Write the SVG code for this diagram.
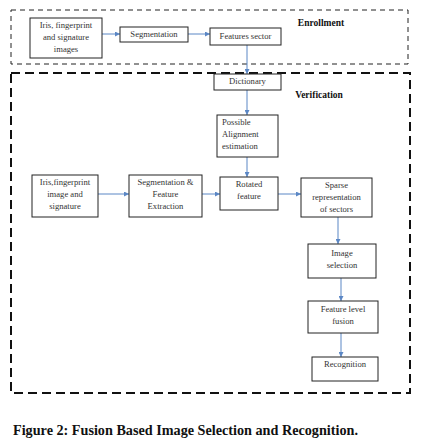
<svg xmlns="http://www.w3.org/2000/svg" width="429" height="443" viewBox="0 0 429 443">
<style>
.box{fill:#fff;stroke:#222;stroke-width:1}
.t{font-family:"Liberation Serif",serif;font-size:8.6px;fill:#333;text-anchor:middle}
.tl{font-family:"Liberation Serif",serif;font-size:8.6px;fill:#333}
.h{font-family:"Liberation Serif",serif;font-size:9.5px;font-weight:bold;fill:#111;text-anchor:middle}
.c{stroke:#5b87c5;stroke-width:1;fill:none;marker-end:url(#ah)}
</style>
<defs>
<marker id="ah" viewBox="0 0 6 6" refX="6" refY="3" markerWidth="5" markerHeight="5" orient="auto" markerUnits="userSpaceOnUse">
<path d="M0,0 L6,3 L0,6 z" fill="#5b87c5"/>
</marker>
</defs>
<rect width="429" height="443" fill="#fff"/>
<g id="enrollment-frame">
<rect x="11" y="10" width="397" height="54" fill="none" stroke="#222" stroke-width="1" stroke-dasharray="5,4"/>
<text class="h" x="321" y="26">Enrollment</text>
</g>
<g id="verification-frame">
<rect x="11" y="73" width="399" height="320" fill="none" stroke="#111" stroke-width="2" stroke-dasharray="9,5"/>
<text class="h" x="319" y="98">Verification</text>
</g>
<g id="connectors">
<line class="c" x1="102" y1="34" x2="120" y2="34"/>
<line class="c" x1="188" y1="34" x2="210" y2="34"/>
<line class="c" x1="247" y1="45" x2="247" y2="74"/>
<line class="c" x1="247" y1="90" x2="247" y2="115"/>
<line class="c" x1="247" y1="157" x2="247" y2="177"/>
<line class="c" x1="98" y1="194" x2="129" y2="194"/>
<line class="c" x1="202" y1="194" x2="220" y2="194"/>
<line class="c" x1="278" y1="194" x2="301" y2="194"/>
<line class="c" x1="338" y1="217" x2="338" y2="244"/>
<line class="c" x1="341" y1="278" x2="341" y2="301"/>
<line class="c" x1="341" y1="333" x2="341" y2="357"/>
</g>
<g id="iris-enroll">
<rect class="box" x="30" y="18" width="72" height="40"/>
<text class="t" x="66" y="28">Iris, fingerprint</text>
<text class="t" x="66" y="40">and signature</text>
<text class="t" x="66" y="52">images</text>
</g>
<g id="segmentation">
<rect class="box" x="120" y="27" width="68" height="15"/>
<text class="t" x="154" y="37">Segmentation</text>
</g>
<g id="features-sector">
<rect class="box" x="210" y="28" width="71" height="17"/>
<text class="t" x="245.5" y="39">Features sector</text>
</g>
<g id="dictionary">
<rect class="box" x="214" y="74" width="67" height="16"/>
<text class="t" x="247.5" y="84">Dictionary</text>
</g>
<g id="alignment">
<rect class="box" x="217" y="115" width="61" height="42"/>
<text class="tl" x="222" y="125">Possible</text>
<text class="tl" x="222" y="137">Alignment</text>
<text class="tl" x="222" y="149">estimation</text>
</g>
<g id="iris-verify">
<rect class="box" x="32" y="175" width="66" height="42"/>
<text class="t" x="65" y="185">Iris,fingerprint</text>
<text class="t" x="65" y="197">image and</text>
<text class="t" x="65" y="209">signature</text>
</g>
<g id="seg-feature">
<rect class="box" x="129" y="175" width="73" height="42"/>
<text class="t" x="165.5" y="185">Segmentation &amp;</text>
<text class="t" x="165.5" y="197">Feature</text>
<text class="t" x="165.5" y="209">Extraction</text>
</g>
<g id="rotated">
<rect class="box" x="220" y="177" width="58" height="33"/>
<text class="t" x="249" y="187">Rotated</text>
<text class="t" x="249" y="199">feature</text>
</g>
<g id="sparse">
<rect class="box" x="301" y="178" width="71" height="39"/>
<text class="t" x="336.5" y="188">Sparse</text>
<text class="t" x="336.5" y="200">representation</text>
<text class="t" x="336.5" y="212">of sectors</text>
</g>
<g id="image-selection">
<rect class="box" x="308" y="244" width="68" height="34"/>
<text class="t" x="342" y="256">Image</text>
<text class="t" x="342" y="268">selection</text>
</g>
<g id="fusion">
<rect class="box" x="308" y="301" width="70" height="32"/>
<text class="t" x="343" y="312">Feature level</text>
<text class="t" x="343" y="324">fusion</text>
</g>
<g id="recognition">
<rect class="box" x="312" y="357" width="66" height="24"/>
<text class="t" x="345" y="367">Recognition</text>
</g>
<text x="13" y="435" font-family="'Liberation Serif',serif" font-size="14.2" font-weight="bold" fill="#111">Figure 2: Fusion Based Image Selection and Recognition.</text>
</svg>
